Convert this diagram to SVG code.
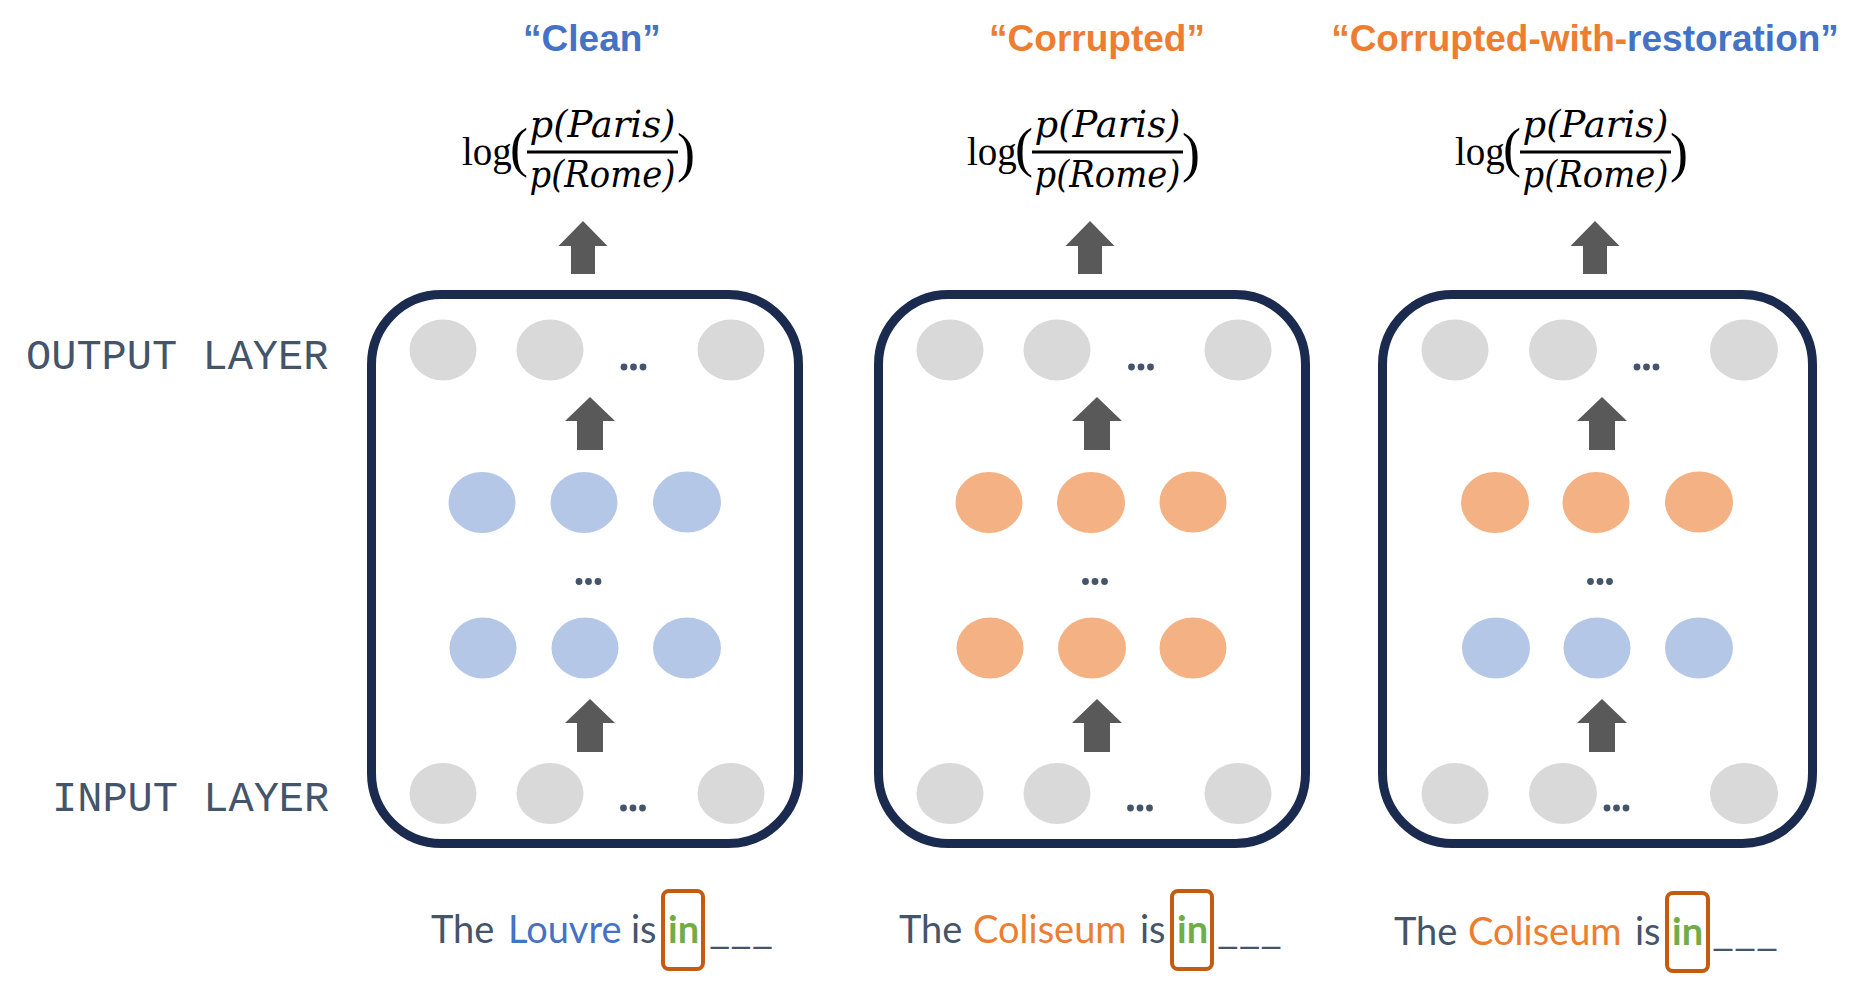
<svg xmlns="http://www.w3.org/2000/svg" xmlns:xlink="http://www.w3.org/1999/xlink" width="1850" height="990" viewBox="0 0 1850 990">
<style>
.box{fill:#FFFFFF;stroke:#1B2B50;stroke-width:9}
.gray{fill:#D9D9D9}
.blue{fill:#B4C7E7}
.orange{fill:#F4B183}
.dot{fill:#44546A}
.arr{fill:#595959}
.title{font-family:"Liberation Sans",Arial,sans-serif;font-weight:bold;font-size:37px;text-anchor:middle}
.cb{fill:#4472C4}
.co{fill:#ED7D31}
.layer{font-family:"Liberation Mono","Courier New",monospace;font-size:42px;fill:#44546A}
.log{font-family:"Liberation Serif","Times New Roman",serif;font-size:39px;fill:#000}
.par{font-family:"Liberation Serif","Times New Roman",serif;font-size:54px;fill:#000}
.frac{font-family:"DejaVu Serif",serif;font-style:italic;font-size:38px;fill:#000;text-anchor:middle}
.sent{font-family:Lato,"Open Sans",sans-serif;font-size:38px}
.sd{fill:#44546A}
.sg{fill:#70AD47;font-weight:bold}
.inbox{fill:none;stroke:#C55A11;stroke-width:4}
</style>
<defs>
<path id="arrS" d="M0,0 L25,24 L13,24 L13,53 L-13,53 L-13,24 L-25,24 Z"/>
<path id="arrL" d="M0,0 L24.5,25 L12,25 L12,53 L-12,53 L-12,25 L-24.5,25 Z"/>
<g id="formula">
<text class="log" x="-65" y="165">log</text>
<text class="par" x="-17" y="166">(</text>
<rect x="0" y="150.5" width="151" height="3" fill="#000"/>
<text class="frac" x="75.5" y="137" textLength="146" lengthAdjust="spacingAndGlyphs">p(Paris)</text>
<text class="frac" x="75.5" y="187" textLength="146" lengthAdjust="spacingAndGlyphs">p(Rome)</text>
<text class="par" x="150" y="171">)</text>
</g>
</defs>
<rect width="1850" height="990" fill="#FFFFFF"/>

<g id="titles">
<text class="title cb" x="592" y="51">“Clean”</text>
<text class="title co" x="1097" y="51">“Corrupted”</text>
<text class="title" x="1585" y="51"><tspan class="co">“Corrupted-with-</tspan><tspan class="cb">restoration”</tspan></text>
</g>

<g id="formulas">
<use xlink:href="#formula" href="#formula" x="527" y="0"/>
<use xlink:href="#formula" href="#formula" x="1032" y="0"/>
<use xlink:href="#formula" href="#formula" x="1520" y="0"/>
</g>

<g id="layer-labels">
<text class="layer" x="26" y="369">OUTPUT LAYER</text>
<text class="layer" x="52" y="811">INPUT LAYER</text>
</g>

<g id="panel-clean">
<rect class="box" x="371.5" y="294.5" width="427" height="549" rx="70"/>
<g id="clean-output">
<ellipse class="gray" cx="443" cy="350" rx="33.5" ry="30.5"/>
<ellipse class="gray" cx="550" cy="350" rx="33.5" ry="30.5"/>
<ellipse class="gray" cx="731" cy="350" rx="33.5" ry="30.5"/>
<circle class="dot" cx="624" cy="367" r="3.4"/><circle class="dot" cx="633.5" cy="367" r="3.4"/><circle class="dot" cx="643" cy="367" r="3.4"/>
</g>
<g id="clean-hidden-upper">
<ellipse class="blue" cx="482" cy="502.5" rx="33.5" ry="30.5"/>
<ellipse class="blue" cx="584" cy="502.5" rx="33.5" ry="30.5"/>
<ellipse class="blue" cx="687" cy="502" rx="34" ry="30.5"/>
</g>
<g id="clean-mid-dots">
<circle class="dot" cx="579" cy="581.5" r="3.4"/><circle class="dot" cx="588.5" cy="581.5" r="3.4"/><circle class="dot" cx="598" cy="581.5" r="3.4"/>
</g>
<g id="clean-hidden-lower">
<ellipse class="blue" cx="483" cy="648" rx="33.5" ry="30.5"/>
<ellipse class="blue" cx="585" cy="648" rx="33.5" ry="30.5"/>
<ellipse class="blue" cx="687" cy="648" rx="34" ry="30.5"/>
</g>
<g id="clean-input">
<ellipse class="gray" cx="443" cy="793.5" rx="33.5" ry="30.5"/>
<ellipse class="gray" cx="550" cy="793.5" rx="33.5" ry="30.5"/>
<ellipse class="gray" cx="731" cy="793.5" rx="33.5" ry="30.5"/>
<circle class="dot" cx="623.5" cy="808" r="3.4"/><circle class="dot" cx="633" cy="808" r="3.4"/><circle class="dot" cx="642.5" cy="808" r="3.4"/>
</g>
</g>

<g id="panel-corrupted">
<rect class="box" x="878.5" y="294.5" width="427" height="549" rx="70"/>
<g id="corrupted-output">
<ellipse class="gray" cx="950" cy="350" rx="33.5" ry="30.5"/>
<ellipse class="gray" cx="1057" cy="350" rx="33.5" ry="30.5"/>
<ellipse class="gray" cx="1238" cy="350" rx="33.5" ry="30.5"/>
<circle class="dot" cx="1131.5" cy="367" r="3.4"/><circle class="dot" cx="1141" cy="367" r="3.4"/><circle class="dot" cx="1150.5" cy="367" r="3.4"/>
</g>
<g id="corrupted-hidden-upper">
<ellipse class="orange" cx="989" cy="502.5" rx="33.5" ry="30.5"/>
<ellipse class="orange" cx="1091" cy="502.5" rx="34" ry="30.5"/>
<ellipse class="orange" cx="1193" cy="502" rx="33.5" ry="30.5"/>
</g>
<g id="corrupted-mid-dots">
<circle class="dot" cx="1085.5" cy="581.5" r="3.4"/><circle class="dot" cx="1095" cy="581.5" r="3.4"/><circle class="dot" cx="1104.5" cy="581.5" r="3.4"/>
</g>
<g id="corrupted-hidden-lower">
<ellipse class="orange" cx="990" cy="648" rx="33.5" ry="30.5"/>
<ellipse class="orange" cx="1092" cy="648" rx="34" ry="30.5"/>
<ellipse class="orange" cx="1193" cy="648" rx="33.5" ry="30.5"/>
</g>
<g id="corrupted-input">
<ellipse class="gray" cx="950" cy="793.5" rx="33.5" ry="30.5"/>
<ellipse class="gray" cx="1057" cy="793.5" rx="33.5" ry="30.5"/>
<ellipse class="gray" cx="1238" cy="793.5" rx="33.5" ry="30.5"/>
<circle class="dot" cx="1130.5" cy="808" r="3.4"/><circle class="dot" cx="1140" cy="808" r="3.4"/><circle class="dot" cx="1149.5" cy="808" r="3.4"/>
</g>
</g>

<g id="panel-restoration">
<rect class="box" x="1382.5" y="294.5" width="430" height="549" rx="70"/>
<g id="restoration-output">
<ellipse class="gray" cx="1455" cy="350" rx="33.5" ry="30.5"/>
<ellipse class="gray" cx="1563" cy="350" rx="34" ry="30.5"/>
<ellipse class="gray" cx="1744" cy="350" rx="34" ry="30.5"/>
<circle class="dot" cx="1637" cy="367" r="3.4"/><circle class="dot" cx="1646.5" cy="367" r="3.4"/><circle class="dot" cx="1656" cy="367" r="3.4"/>
</g>
<g id="restoration-hidden-upper">
<ellipse class="orange" cx="1495" cy="502.5" rx="34" ry="30.5"/>
<ellipse class="orange" cx="1596" cy="502.5" rx="33.5" ry="30.5"/>
<ellipse class="orange" cx="1699" cy="502" rx="34" ry="30.5"/>
</g>
<g id="restoration-mid-dots">
<circle class="dot" cx="1590.5" cy="581.5" r="3.4"/><circle class="dot" cx="1600" cy="581.5" r="3.4"/><circle class="dot" cx="1609.5" cy="581.5" r="3.4"/>
</g>
<g id="restoration-hidden-lower">
<ellipse class="blue" cx="1496" cy="648" rx="34" ry="30.5"/>
<ellipse class="blue" cx="1597" cy="648" rx="33.5" ry="30.5"/>
<ellipse class="blue" cx="1699" cy="648" rx="34" ry="30.5"/>
</g>
<g id="restoration-input">
<ellipse class="gray" cx="1455" cy="793.5" rx="33.5" ry="30.5"/>
<ellipse class="gray" cx="1563" cy="793.5" rx="34" ry="30.5"/>
<ellipse class="gray" cx="1744" cy="793.5" rx="34" ry="30.5"/>
<circle class="dot" cx="1607" cy="808" r="3.4"/><circle class="dot" cx="1616.5" cy="808" r="3.4"/><circle class="dot" cx="1626" cy="808" r="3.4"/>
</g>
</g>

<g id="connectors">
<use class="arr" xlink:href="#arrL" href="#arrL" x="583" y="221"/>
<use class="arr" xlink:href="#arrL" href="#arrL" x="1090" y="221"/>
<use class="arr" xlink:href="#arrL" href="#arrL" x="1595" y="221"/>
<use class="arr" xlink:href="#arrS" href="#arrS" x="590" y="397"/>
<use class="arr" xlink:href="#arrS" href="#arrS" x="590" y="699"/>
<use class="arr" xlink:href="#arrS" href="#arrS" x="1097" y="397"/>
<use class="arr" xlink:href="#arrS" href="#arrS" x="1097" y="699"/>
<use class="arr" xlink:href="#arrS" href="#arrS" x="1602" y="397"/>
<use class="arr" xlink:href="#arrS" href="#arrS" x="1602" y="699"/>
</g>

<g id="sentence-clean">
<text class="sent sd" x="431" y="943">The</text>
<text class="sent cb" x="508" y="943">Louvre</text>
<text class="sent sd" x="631" y="943">is</text>
<text class="sent sg" x="668" y="943">in</text>
<text class="sent sd" x="709" y="943" textLength="64" lengthAdjust="spacingAndGlyphs">___</text>
<rect class="inbox" x="663" y="891" width="40" height="78" rx="6"/>
</g>

<g id="sentence-corrupted">
<text class="sent sd" x="899" y="943">The</text>
<text class="sent co" x="973" y="943">Coliseum</text>
<text class="sent sd" x="1140" y="943">is</text>
<text class="sent sg" x="1177" y="943">in</text>
<text class="sent sd" x="1217" y="943" textLength="65" lengthAdjust="spacingAndGlyphs">___</text>
<rect class="inbox" x="1172" y="891" width="40" height="78" rx="6"/>
</g>

<g id="sentence-restoration">
<text class="sent sd" x="1394" y="945">The</text>
<text class="sent co" x="1468" y="945">Coliseum</text>
<text class="sent sd" x="1635" y="945">is</text>
<text class="sent sg" x="1672" y="945">in</text>
<text class="sent sd" x="1712" y="945" textLength="66" lengthAdjust="spacingAndGlyphs">___</text>
<rect class="inbox" x="1667" y="893" width="41" height="78" rx="6"/>
</g>
</svg>
